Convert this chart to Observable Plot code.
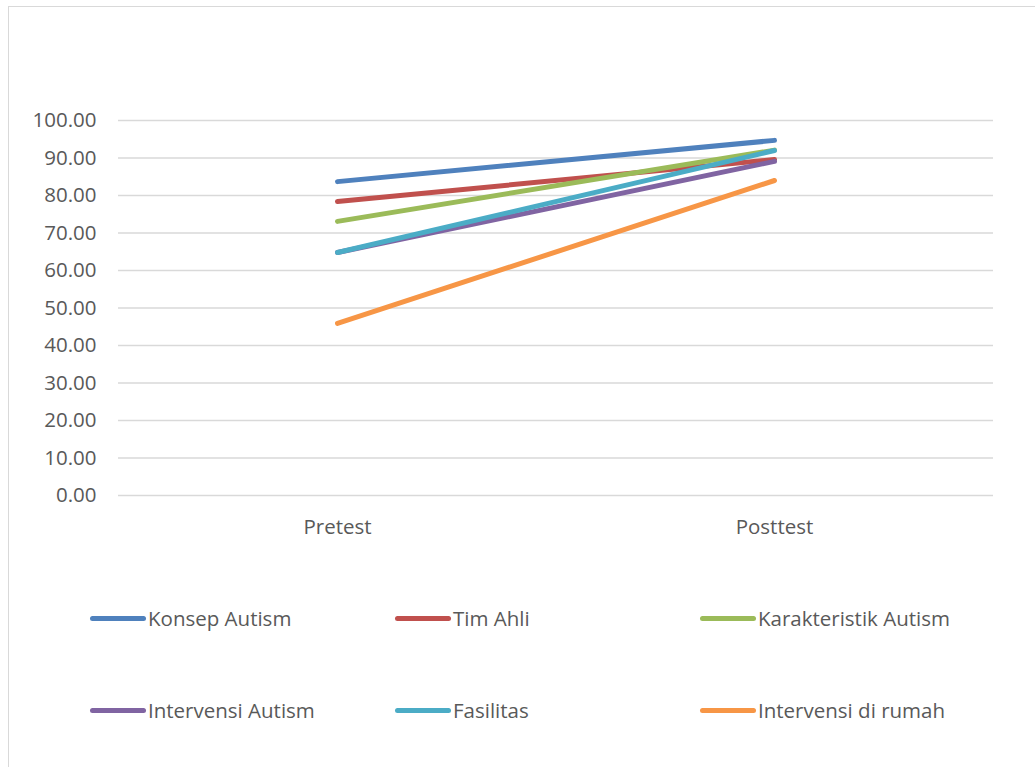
<!DOCTYPE html>
<html>
<head>
<meta charset="utf-8">
<script src="https://cdn.jsdelivr.net/npm/d3@7"></script>
<script src="https://cdn.jsdelivr.net/npm/@observablehq/plot@0.6"></script>
<style>
  html, body { margin: 0; padding: 0; background: #fff; }
  body { width: 1035px; height: 767px; position: relative; overflow: hidden; font-family: "Open Sans", sans-serif; }
  #frame { position: absolute; left: 8px; top: 6px; width: 1100px; height: 800px; border: 1.5px solid #d9d9d9; box-sizing: border-box; }
  #chart { position: absolute; left: 0; top: 0; }
  #legend { position: absolute; left: 0; top: 0; width: 1035px; height: 767px; pointer-events: none; }
  .item { position: absolute; display: flex; align-items: center; color: #595959; font-size: 20.5px; white-space: nowrap; }
  .sw { display: inline-block; width: 56px; height: 5px; border-radius: 3px; margin-right: 2px; }
</style>
</head>
<body>
<div id="frame"></div>
<div id="chart"></div>
<div id="legend"></div>
<script>
const categories = ["Pretest", "Posttest"];
const seriesNames = ["Konsep Autism", "Tim Ahli", "Karakteristik Autism", "Intervensi Autism", "Fasilitas", "Intervensi di rumah"];
const pretest  = [83.7, 78.4, 73.1, 64.8, 64.8, 45.9];
const posttest = [94.7, 89.6, 92.1, 89.1, 92.0, 84.0];
const colors = ["#4F81BD", "#C0504D", "#9BBB59", "#8064A2", "#4BACC6", "#F79646"];
const yTicks = [0, 10, 20, 30, 40, 50, 60, 70, 80, 90, 100];

const data = [];
seriesNames.forEach((s, i) => {
  data.push({series: s, cat: categories[0], value: pretest[i]});
  data.push({series: s, cat: categories[1], value: posttest[i]});
});

const plot = Plot.plot({
  width: 1035,
  height: 560,
  marginLeft: 118,
  marginRight: 42,
  marginTop: 120,
  marginBottom: 65,
  style: {fontFamily: "Open Sans, sans-serif", fontSize: "20.5px", color: "#595959", background: "transparent"},
  x: {type: "point", domain: categories, padding: 0.5, label: null},
  y: {domain: [0, 100], label: null},
  color: {domain: seriesNames, range: colors},
  marks: [
    Plot.ruleY(yTicks, {stroke: "#d9d9d9", strokeWidth: 1.3}),
    Plot.axisY({ticks: yTicks, tickSize: 0, tickPadding: 22, tickFormat: d => d.toFixed(2), fill: "#595959", label: null}),
    Plot.axisX({tickSize: 0, tickPadding: 24, fill: "#595959", label: null}),
    Plot.line(data, {x: "cat", y: "value", z: "series", stroke: "series", strokeWidth: 5, strokeLinecap: "round"})
  ]
});
document.getElementById("chart").appendChild(plot);

const legendX = [90, 395, 700];
const legendY = [618, 710];
const legend = document.getElementById("legend");
seriesNames.forEach((s, i) => {
  const div = document.createElement("div");
  div.className = "item";
  div.style.left = legendX[i % 3] + "px";
  div.style.top = (legendY[Math.floor(i / 3)] - 14) + "px";
  div.style.height = "28px";
  const sw = document.createElement("span");
  sw.className = "sw";
  sw.style.background = colors[i];
  div.appendChild(sw);
  const t = document.createElement("span");
  t.textContent = s;
  div.appendChild(t);
  legend.appendChild(div);
});
</script>
</body>
</html>
